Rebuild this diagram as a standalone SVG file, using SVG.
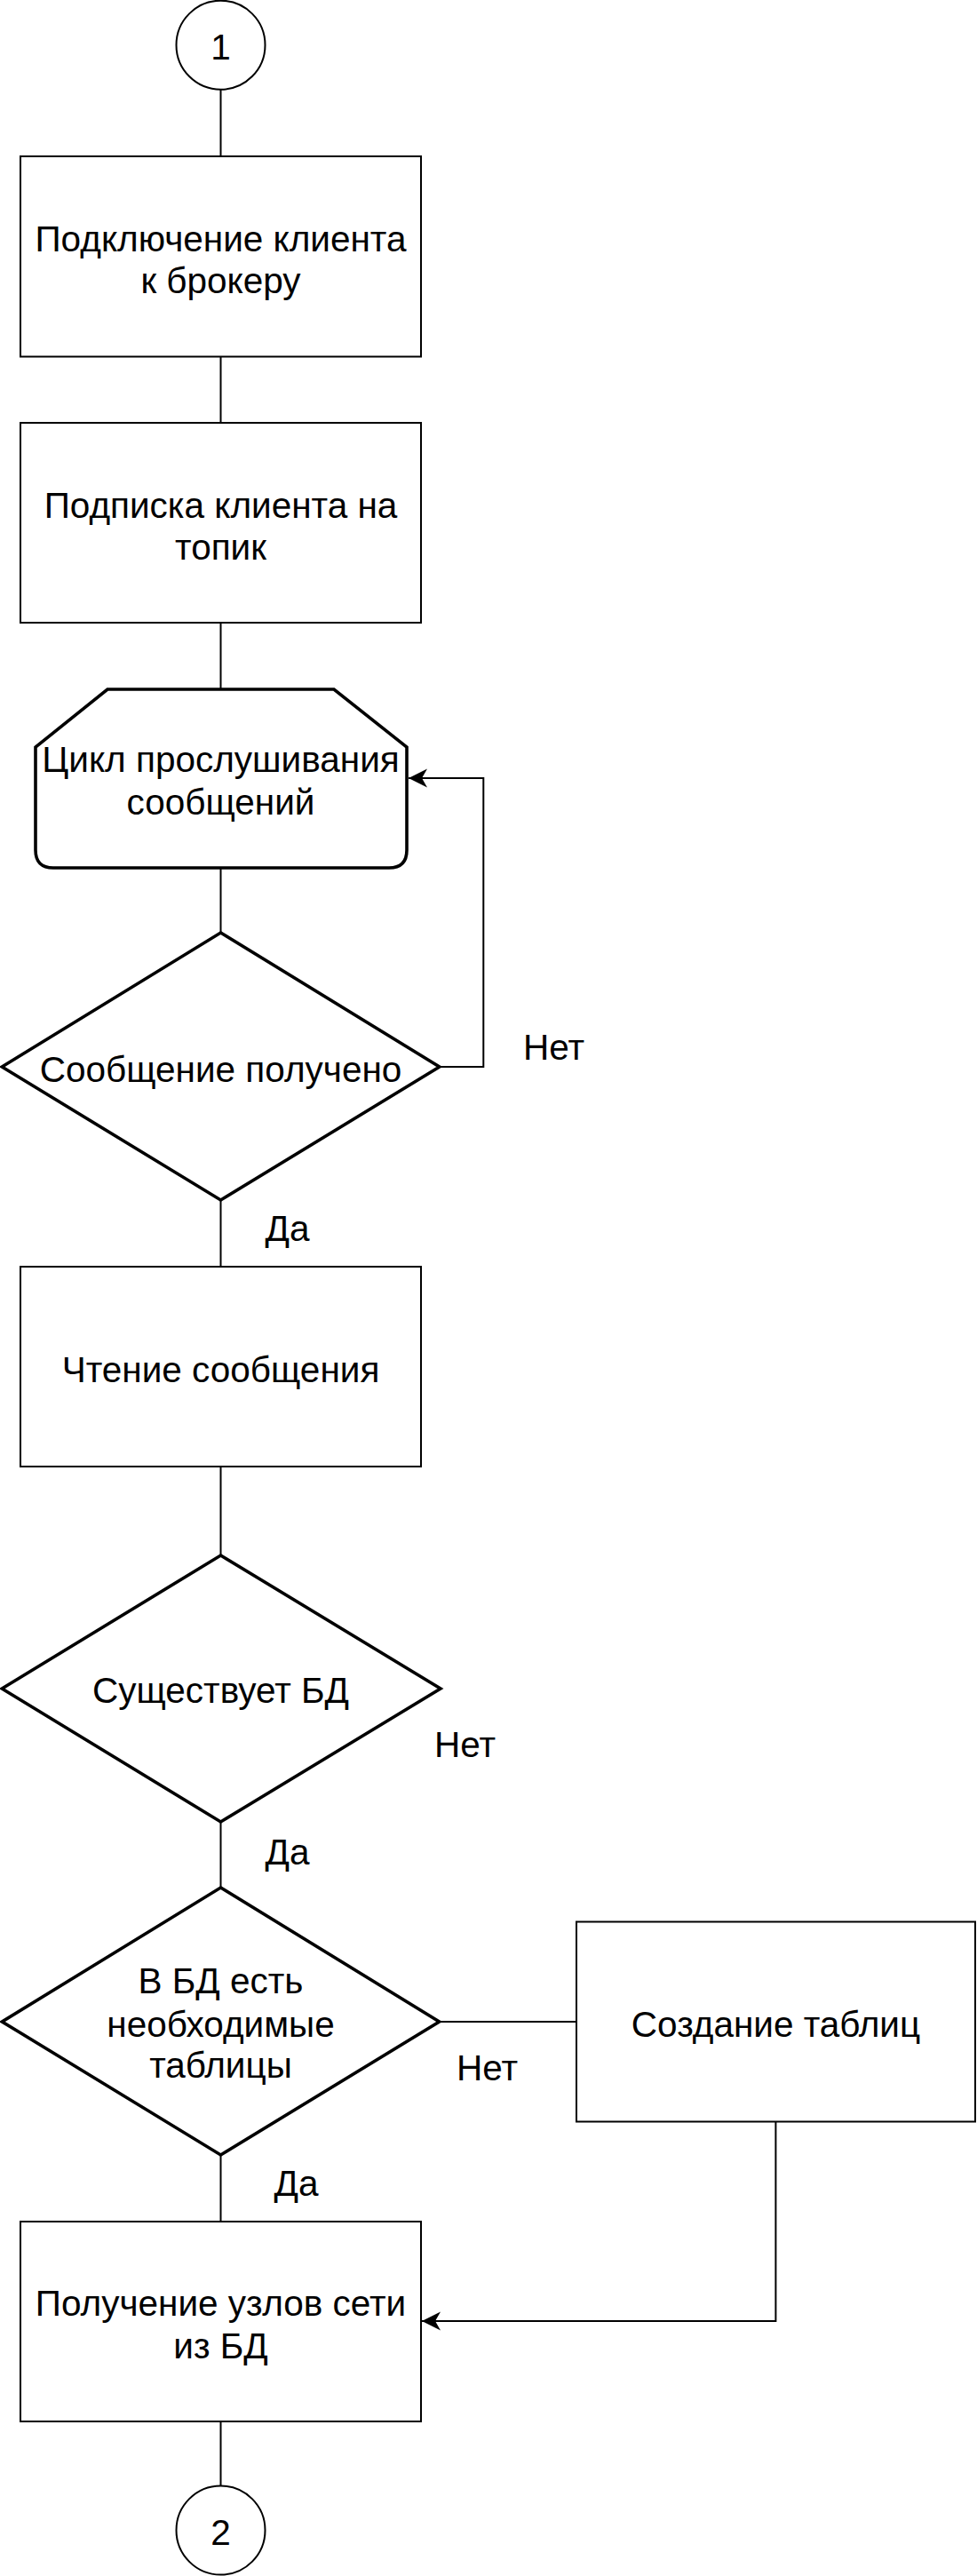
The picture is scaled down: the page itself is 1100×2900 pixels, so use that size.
<svg xmlns="http://www.w3.org/2000/svg" width="1100" height="2900" viewBox="0 0 1100 2900">
<style>
  .box { fill: #ffffff; stroke: #000000; stroke-width: 2; }
  .thick { fill: #ffffff; stroke: #000000; stroke-width: 3.6; stroke-linejoin: miter; }
  .conn { fill: none; stroke: #000000; stroke-width: 2; }
  text { font-family: "Liberation Sans", Arial, Helvetica, sans-serif; font-size: 40.5px; fill: #000000; }
  .c { text-anchor: middle; }
</style>
<defs>
  <marker id="arrow" markerUnits="userSpaceOnUse" markerWidth="24" markerHeight="24" viewBox="-22 -12 24 24" refX="0" refY="0" orient="auto">
    <path d="M0,0 L-21,-10.5 L-15,0 L-21,10.5 Z" fill="#000000" stroke="none"/>
  </marker>
</defs>
<rect width="1100" height="2900" fill="#ffffff"/>

<g id="connectors">
  <line class="conn" x1="248.5" y1="101" x2="248.5" y2="176"/>
  <line class="conn" x1="248.5" y1="401.5" x2="248.5" y2="476"/>
  <line class="conn" x1="248.5" y1="701" x2="248.5" y2="776"/>
  <line class="conn" x1="248.5" y1="977" x2="248.5" y2="1050"/>
  <polyline class="conn" points="494.8,1201 544.3,1201 544.3,876 460,876" marker-end="url(#arrow)"/>
  <line class="conn" x1="248.5" y1="1351" x2="248.5" y2="1426"/>
  <line class="conn" x1="248.5" y1="1651" x2="248.5" y2="1751"/>
  <line class="conn" x1="248.5" y1="2051" x2="248.5" y2="2125"/>
  <line class="conn" x1="494.6" y1="2276" x2="649" y2="2276"/>
  <polyline class="conn" points="873.4,2389 873.4,2613 475,2613" marker-end="url(#arrow)"/>
  <line class="conn" x1="248.5" y1="2426" x2="248.5" y2="2501"/>
  <line class="conn" x1="248.5" y1="2726" x2="248.5" y2="2798"/>
</g>

<g id="start1">
  <circle class="box" cx="248.5" cy="50.7" r="50"/>
  <text class="c" x="248.5" y="67">1</text>
</g>

<g id="connect">
  <rect class="box" x="23" y="176" width="451" height="225.5"/>
  <text class="c" x="248.5" y="282.7">Подключение клиента</text>
  <text class="c" x="248.5" y="330">к брокеру</text>
</g>

<g id="subscribe">
  <rect class="box" x="23" y="476" width="451" height="225"/>
  <text class="c" x="248.5" y="583.3">Подписка клиента на</text>
  <text class="c" x="248.5" y="629.6">топик</text>
</g>

<g id="loop">
  <path class="thick" d="M121,776 L376,776 L458,841 L458,957 Q458,977 438,977 L60,977 Q40,977 40,957 L40,841 Z"/>
  <text class="c" x="248.5" y="869">Цикл прослушивания</text>
  <text class="c" x="248.5" y="916.5">сообщений</text>
</g>

<g id="received">
  <polygon class="thick" points="248.5,1050 494.8,1201 248.5,1351 2.2,1201"/>
  <text class="c" x="248.5" y="1218.3">Сообщение получено</text>
</g>
<text x="589" y="1192.7">Нет</text>
<text x="298.5" y="1396.7">Да</text>

<g id="read">
  <rect class="box" x="23" y="1426" width="451" height="225"/>
  <text class="c" x="248.5" y="1555.5">Чтение сообщения</text>
</g>

<g id="dbexists">
  <polygon class="thick" points="248.5,1751 496,1901 248.5,2051 2.2,1901"/>
  <text class="c" x="248.5" y="1917">Существует БД</text>
</g>
<text x="489" y="1977.6">Нет</text>
<text x="298.5" y="2099">Да</text>

<g id="tables">
  <polygon class="thick" points="248.5,2125 494.6,2276 248.5,2426 2.4,2276"/>
  <text class="c" x="248.5" y="2244">В БД есть</text>
  <text class="c" x="248.5" y="2292.7">необходимые</text>
  <text class="c" x="248.5" y="2339.3">таблицы</text>
</g>
<text x="514" y="2341.7">Нет</text>
<text x="308.5" y="2471.7">Да</text>

<g id="create">
  <rect class="box" x="649" y="2163.5" width="449" height="225"/>
  <text class="c" x="873.5" y="2292.7">Создание таблиц</text>
</g>

<g id="nodes">
  <rect class="box" x="23" y="2501" width="451" height="225"/>
  <text class="c" x="248.5" y="2606.7">Получение узлов сети</text>
  <text class="c" x="248.5" y="2655">из БД</text>
</g>

<g id="end2">
  <circle class="box" cx="248.5" cy="2848.5" r="50"/>
  <text class="c" x="248.5" y="2865">2</text>
</g>
</svg>
